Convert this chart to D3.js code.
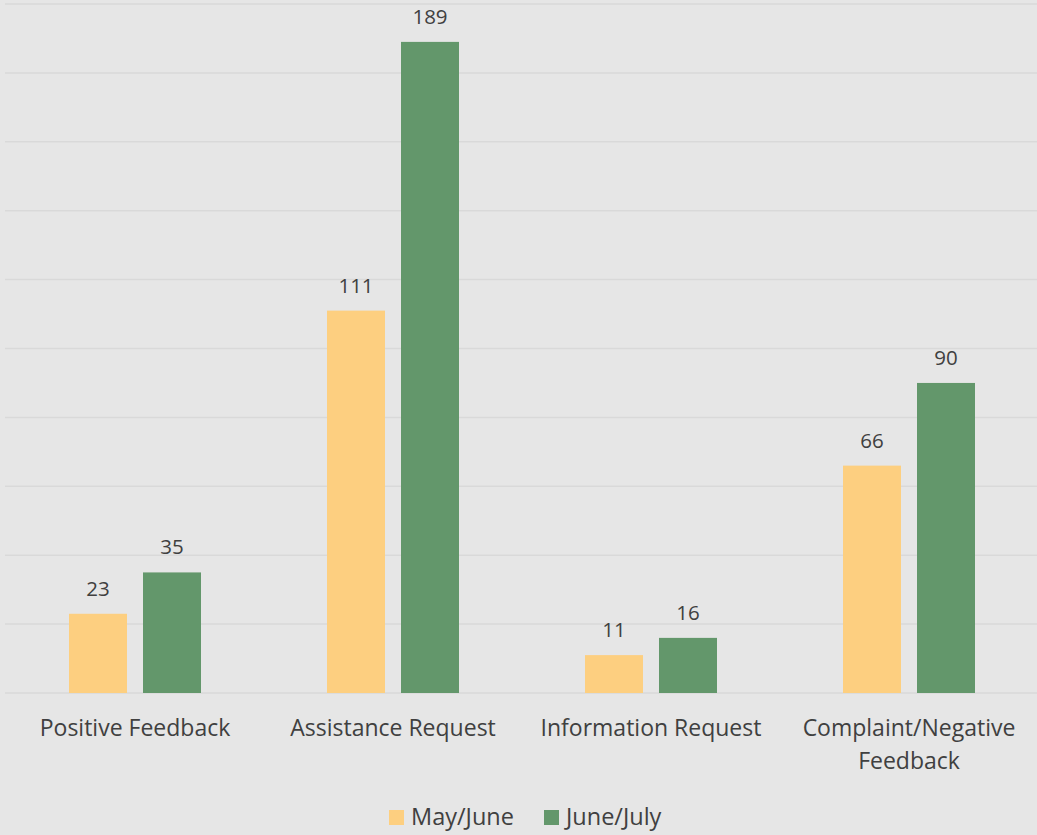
<!DOCTYPE html>
<html><head><meta charset="utf-8">
<script src="https://cdn.jsdelivr.net/npm/d3@7"></script>
<style>html,body{margin:0;padding:0;background:#e6e6e6;}svg{display:block;}</style>
</head><body>
<script>
const categories = ["Positive Feedback", "Assistance Request", "Information Request", "Complaint/Negative Feedback"];
const series = ["May/June", "June/July"];
const mayJune = [23, 111, 11, 66];
const juneJuly = [35, 189, 16, 90];
const yTicks = [0, 20, 40, 60, 80, 100, 120, 140, 160, 180, 200];
const colors = ["#FDCF80", "#63976B"];

const W = 1037, H = 835;
const font = "'Open Sans', sans-serif";
const svg = d3.select("body").append("svg").attr("width", W).attr("height", H);
svg.append("rect").attr("width", W).attr("height", H).attr("fill", "#e6e6e6");

const x = d3.scaleBand().domain(categories).range([6, 1038]);
const y = d3.scaleLinear().domain([0, 200]).range([693, 4]);
const bw = 58, gap = 16;

// gridlines
svg.append("g").selectAll("line").data(yTicks).join("line")
  .attr("x1", 5).attr("x2", W).attr("y1", d => y(d)).attr("y2", d => y(d))
  .attr("stroke", "#d9d9d9").attr("stroke-width", 1.5);

const data = [mayJune, juneJuly];
data.forEach((vals, si) => {
  const g = svg.append("g");
  const xPos = c => x(c) + x.bandwidth() / 2 + (si === 0 ? -gap / 2 - bw : gap / 2);
  g.selectAll("rect").data(categories).join("rect")
    .attr("x", c => xPos(c))
    .attr("width", bw)
    .attr("y", (c, i) => y(vals[i]))
    .attr("height", (c, i) => y(0) - y(vals[i]))
    .attr("fill", colors[si]);
  g.selectAll("text").data(categories).join("text")
    .attr("x", c => xPos(c) + bw / 2)
    .attr("y", (c, i) => y(vals[i]) - 18)
    .attr("text-anchor", "middle")
    .attr("font-family", font).attr("font-size", 20.5).attr("fill", "#404040")
    .text((c, i) => vals[i]);
});

// category labels
const labelLines = {
  "Complaint/Negative Feedback": ["Complaint/Negative", "Feedback"]
};
categories.forEach(c => {
  const lines = labelLines[c] || [c];
  const t = svg.append("text")
    .attr("text-anchor", "middle")
    .attr("font-family", font).attr("font-size", 23).attr("fill", "#404040");
  lines.forEach((l, i) => {
    t.append("tspan").attr("x", x(c) + x.bandwidth() / 2).attr("y", 736 + i * 32.5).text(l);
  });
});

// legend
const legend = svg.append("g");
const legendX = [389, 544];
series.forEach((s, i) => {
  legend.append("rect").attr("x", legendX[i]).attr("y", 810).attr("width", 15).attr("height", 15).attr("fill", colors[i]);
  legend.append("text").attr("x", legendX[i] + 22).attr("y", 825)
    .attr("font-family", font).attr("font-size", 23.5).attr("fill", "#404040").text(s);
});
</script>
</body></html>
